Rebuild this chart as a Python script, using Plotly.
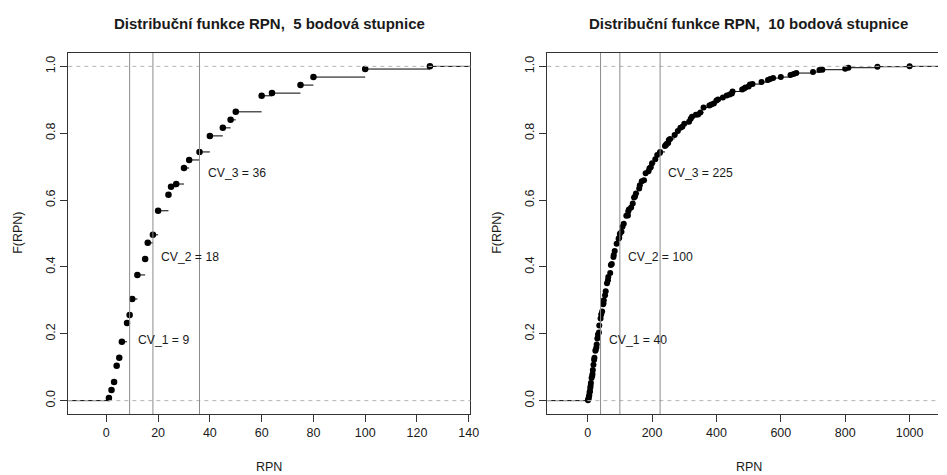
import plotly.graph_objects as go

# ---------------- data ----------------
rpn5 = [1, 2, 3, 4, 5, 6, 8, 9, 10, 12, 15, 16, 18, 20, 24, 25, 27, 30, 32, 36,
        40, 45, 48, 50, 60, 64, 75, 80, 100, 125]
F5 = [0.008, 0.032, 0.056, 0.104, 0.128, 0.176, 0.232, 0.256, 0.304, 0.376,
      0.424, 0.472, 0.496, 0.568, 0.616, 0.640, 0.648, 0.696, 0.720, 0.744,
      0.792, 0.816, 0.840, 0.864, 0.912, 0.920, 0.944, 0.968, 0.992, 1.000]

rpn10 = [1, 2, 3, 4, 5, 6, 7, 8, 9, 10, 12, 14, 15, 16, 18, 20, 21, 24, 25, 27,
         28, 30, 32, 35, 36, 40, 42, 45, 48, 49, 50, 54, 56, 60, 63, 64, 70, 72,
         75, 80, 81, 84, 90, 96, 98, 100, 105, 108, 112, 120, 125, 126, 128, 135,
         140, 144, 147, 150, 160, 162, 168, 175, 180, 189, 192, 196, 200, 210,
         216, 224, 225, 240, 243, 245, 250, 252, 256, 270, 280, 288, 294, 300,
         315, 320, 324, 336, 343, 350, 360, 378, 384, 392, 400, 405, 420, 432,
         441, 448, 450, 480, 486, 490, 500, 504, 512, 540, 560, 567, 576, 600,
         630, 640, 648, 700, 720, 729, 800, 810, 900, 1000]
F10 = [0.001, 0.004, 0.007, 0.013, 0.016, 0.025, 0.028, 0.038, 0.044, 0.053,
       0.068, 0.074, 0.080, 0.092, 0.107, 0.122, 0.128, 0.149, 0.152, 0.159,
       0.168, 0.186, 0.198, 0.204, 0.225, 0.246, 0.258, 0.267, 0.288, 0.291,
       0.300, 0.315, 0.327, 0.351, 0.360, 0.370, 0.382, 0.406, 0.409, 0.430,
       0.436, 0.448, 0.469, 0.484, 0.487, 0.499, 0.505, 0.520, 0.529, 0.553,
       0.554, 0.566, 0.572, 0.578, 0.590, 0.608, 0.611, 0.620, 0.635, 0.644,
       0.656, 0.659, 0.680, 0.686, 0.695, 0.698, 0.710, 0.722, 0.735, 0.741,
       0.744, 0.762, 0.765, 0.768, 0.771, 0.780, 0.783, 0.795, 0.807, 0.816,
       0.819, 0.828, 0.834, 0.843, 0.849, 0.855, 0.856, 0.862, 0.877, 0.883,
       0.886, 0.889, 0.898, 0.901, 0.907, 0.913, 0.916, 0.919, 0.925, 0.931,
       0.934, 0.937, 0.940, 0.946, 0.947, 0.953, 0.959, 0.962, 0.965, 0.968,
       0.974, 0.977, 0.980, 0.983, 0.989, 0.990, 0.993, 0.996, 0.999, 1.000]

cv5 = [9, 18, 36]
cv10 = [40, 100, 225]
cv_label_y = [0.18, 0.43, 0.68]
titles = ["Distribuční funkce RPN,  5 bodová stupnice",
          "Distribuční funkce RPN,  10 bodová stupnice"]
xticks5 = [0, 20, 40, 60, 80, 100, 120, 140]
xticks10 = [0, 200, 400, 600, 800, 1000]
yticks = [0.0, 0.2, 0.4, 0.6, 0.8, 1.0]
yticktext = ["0.0", "0.2", "0.4", "0.6", "0.8", "1.0"]

# ---------------- layout geometry ----------------
W, H = 947, 475
range5 = [-14.67, 140.67]
range10 = [-125.27, 1088.2]
yrange = [-0.04, 1.04]
dom5 = [69 / W, 475 / W]
dom10 = [552.6 / W, 1.0]
ydom = [1 - 414 / H, 1 - 53 / H]

FONT = "Liberation Sans, Arial, sans-serif"
TXT = "#1a1a1a"
FS = 12.5


def step_segments(xs, fs, xr):
    sx, sy = [xr[0], xs[0], None], [0, 0, None]
    for i in range(len(xs)):
        x_end = xs[i + 1] if i + 1 < len(xs) else xr[1]
        sx += [xs[i], x_end, None]
        sy += [fs[i], fs[i], None]
    return sx, sy


fig = go.Figure()
for (xs, fs, xr, xa, ya, ms) in [(rpn5, F5, range5, "x", "y", 6.5),
                                 (rpn10, F10, range10, "x2", "y2", 6)]:
    sx, sy = step_segments(xs, fs, xr)
    fig.add_trace(go.Scatter(x=sx, y=sy, mode="lines", xaxis=xa, yaxis=ya,
                             line=dict(color="black", width=1),
                             hoverinfo="skip", showlegend=False))
    fig.add_trace(go.Scatter(x=xs, y=fs, mode="markers", xaxis=xa, yaxis=ya,
                             marker=dict(color="black", size=ms),
                             showlegend=False))

shapes = []
annotations = []
for (xa, ya, cvs) in [("x", "y", cv5), ("x2", "y2", cv10)]:
    for h in [0, 1]:
        shapes.append(dict(type="line", xref=xa + " domain", yref=ya,
                           x0=0, x1=1, y0=h, y1=h, layer="above",
                           line=dict(color="#b3b3b3", width=1, dash="4px,4px")))
    for cv, ly, k in zip(cvs, cv_label_y, [1, 2, 3]):
        shapes.append(dict(type="line", xref=xa, yref=ya + " domain",
                           x0=cv, x1=cv, y0=0, y1=1, layer="above",
                           line=dict(color="#8c8c8c", width=1)))
        annotations.append(dict(x=cv, y=ly, xref=xa, yref=ya,
                                text=f"CV_{k} = {cv}", showarrow=False,
                                xanchor="left", yanchor="middle", xshift=6,
                                font=dict(family=FONT, size=12.2, color=TXT)))

# titles and axis titles
for dom, t in [(dom5, titles[0]), ([552.6 / W, 959.3 / W], titles[1])]:
    annotations.append(dict(x=(dom[0] + dom[1]) / 2, y=1 - 24 / H, xref="paper",
                            yref="paper", text=f"<b>{t}</b>", showarrow=False,
                            xanchor="center", yanchor="middle",
                            font=dict(family=FONT, size=15, color=TXT)))
    annotations.append(dict(x=(dom[0] + dom[1]) / 2, y=1 - 467 / H, xref="paper",
                            yref="paper", text="RPN", showarrow=False,
                            xanchor="center", yanchor="middle",
                            font=dict(family=FONT, size=FS, color=TXT)))
    annotations.append(dict(x=dom[0] - 51 / W, y=1 - 233 / H, xref="paper",
                            yref="paper", text="F(RPN)", showarrow=False,
                            textangle=-90, xanchor="center", yanchor="middle",
                            font=dict(family=FONT, size=FS, color=TXT)))

axis_common = dict(showgrid=False, zeroline=False, ticks="outside", ticklen=7,
                   tickcolor="#333", tickwidth=1, showline=True, linecolor="#333",
                   linewidth=1, tickfont=dict(family=FONT, size=FS, color=TXT))

fig.update_layout(
    width=W, height=H, autosize=False, margin=dict(l=0, r=0, t=0, b=0),
    paper_bgcolor="white", plot_bgcolor="white",
    xaxis=dict(domain=dom5, range=range5, tickvals=xticks5, anchor="y",
               mirror=True, **axis_common),
    yaxis=dict(domain=ydom, range=yrange, tickvals=yticks, ticktext=yticktext,
               tickangle=-90, anchor="x", mirror=True, **axis_common),
    xaxis2=dict(domain=dom10, range=range10, tickvals=xticks10, anchor="y2",
                mirror=True, **axis_common),
    yaxis2=dict(domain=ydom, range=yrange, tickvals=yticks, ticktext=yticktext,
                tickangle=-90, anchor="x2", mirror=False, **axis_common),
    shapes=shapes, annotations=annotations, showlegend=False,
)

fig.write_html("out.html", config={"responsive": False})
